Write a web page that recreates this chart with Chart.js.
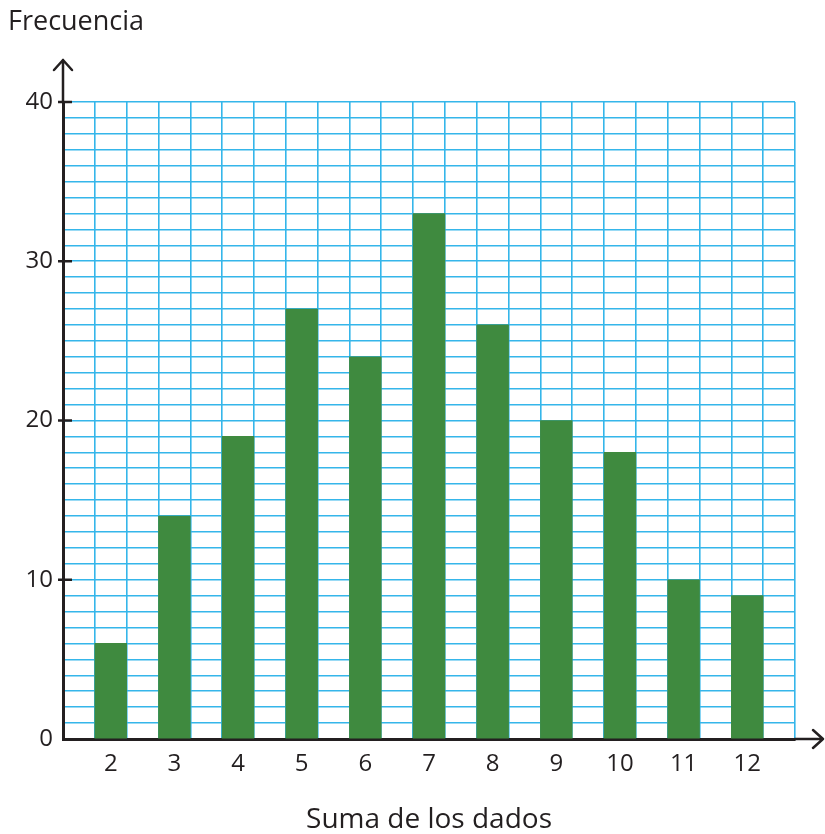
<!DOCTYPE html>
<html>
<head>
<meta charset="utf-8">
<script src="https://cdn.jsdelivr.net/npm/chart.js@4"></script>
<style>
html,body{margin:0;padding:0;background:#fff;}
#wrap{width:825px;height:834px;}
</style>
</head>
<body>
<div id="wrap"><canvas id="c" width="825" height="834"></canvas></div>
<script>
const categories = [2, 3, 4, 5, 6, 7, 8, 9, 10, 11, 12];
const frequencies = [6, 14, 19, 27, 24, 33, 26, 20, 18, 10, 9];
const yTickLabels = [0, 10, 20, 30, 40];
const yTitle = 'Frecuencia';
const xTitle = 'Suma de los dados';

const INK = '#231f20';
const GRID = '#35b6ea';
const BAR = '#3f8a3f';
const FONT = 'Open Sans';

const xMin = categories[0] - 0.75;
const xMax = categories[categories.length - 1] + 0.75;
const yMax = yTickLabels[yTickLabels.length - 1];

const xTicks = [];
for (let v = xMin; v <= xMax + 1e-9; v += 0.25) xTicks.push(Math.round(v * 100) / 100);
const yTicks = [];
for (let v = 0; v <= yMax; v++) yTicks.push(v);

const axisArrows = {
  id: 'axisArrows',
  afterDraw(chart) {
    const {ctx, chartArea: a, scales} = chart;
    ctx.save();
    ctx.strokeStyle = INK;
    ctx.lineWidth = 2.5;
    ctx.lineCap = 'round';
    ctx.lineJoin = 'round';
    const topTip = a.top - 42;
    ctx.beginPath();
    ctx.moveTo(a.left, a.top);
    ctx.lineTo(a.left, topTip);
    ctx.moveTo(a.left - 9, topTip + 10);
    ctx.lineTo(a.left, topTip);
    ctx.lineTo(a.left + 9, topTip + 10);
    ctx.stroke();
    const rightTip = a.right + 28;
    ctx.beginPath();
    ctx.moveTo(a.right, a.bottom);
    ctx.lineTo(rightTip, a.bottom);
    ctx.moveTo(rightTip - 10, a.bottom - 9);
    ctx.lineTo(rightTip, a.bottom);
    ctx.lineTo(rightTip - 10, a.bottom + 9);
    ctx.stroke();
    ctx.lineCap = 'butt';
    yTickLabels.forEach(v => {
      if (v === 0) return;
      const py = scales.y.getPixelForValue(v);
      ctx.beginPath();
      ctx.moveTo(a.left - 5, py);
      ctx.lineTo(a.left + 9, py);
      ctx.stroke();
    });
    ctx.restore();
  }
};

new Chart(document.getElementById('c'), {
  type: 'bar',
  data: {
    datasets: [{
      data: categories.map((c, i) => ({x: c, y: frequencies[i]})),
      backgroundColor: BAR,
      borderWidth: 0,
      barThickness: 'flex',
      categoryPercentage: 1,
      barPercentage: 0.5
    }]
  },
  options: {
    responsive: false,
    animation: false,
    layout: {padding: {left: 8, right: 30, top: 0, bottom: 0}},
    plugins: {
      legend: {display: false},
      tooltip: {enabled: false},
      title: {
        display: true,
        text: yTitle,
        align: 'start',
        color: INK,
        font: {family: FONT, size: 27, weight: 'normal', lineHeight: 1.2},
        padding: {top: 6, bottom: 63.6}
      }
    },
    scales: {
      x: {
        type: 'linear',
        min: xMin,
        max: xMax,
        offset: false,
        afterBuildTicks: s => { s.ticks = xTicks.map(v => ({value: v})); },
        afterFit: s => { s.height = 95; },
        grid: {
          offset: false,
          drawTicks: false,
          lineWidth: 1.6,
          color: c => {
            const v = c.tick ? c.tick.value : 0;
            const f = Math.round((v - Math.floor(v)) * 100);
            return (f === 25 || f === 75) ? GRID : 'rgba(0,0,0,0)';
          }
        },
        border: {display: true, color: INK, width: 3},
        ticks: {
          autoSkip: false,
          maxRotation: 0,
          padding: 11,
          color: INK,
          font: {family: FONT, size: 24},
          callback: v => (categories.includes(v) ? String(v) : '')
        },
        title: {
          display: true,
          text: xTitle,
          color: INK,
          font: {family: FONT, size: 28, lineHeight: 1},
          padding: {top: 0, bottom: 0}
        }
      },
      y: {
        type: 'linear',
        min: 0,
        max: yMax,
        afterBuildTicks: s => { s.ticks = yTicks.map(v => ({value: v})); },
        afterFit: s => { s.width = 55; },
        grid: {drawTicks: false, lineWidth: 1.6, color: GRID},
        border: {display: true, color: INK, width: 3},
        ticks: {
          autoSkip: false,
          padding: 10,
          color: INK,
          font: {family: FONT, size: 24},
          callback: v => (yTickLabels.includes(v) ? String(v) : '')
        }
      }
    }
  },
  plugins: [axisArrows]
});
</script>
</body>
</html>
